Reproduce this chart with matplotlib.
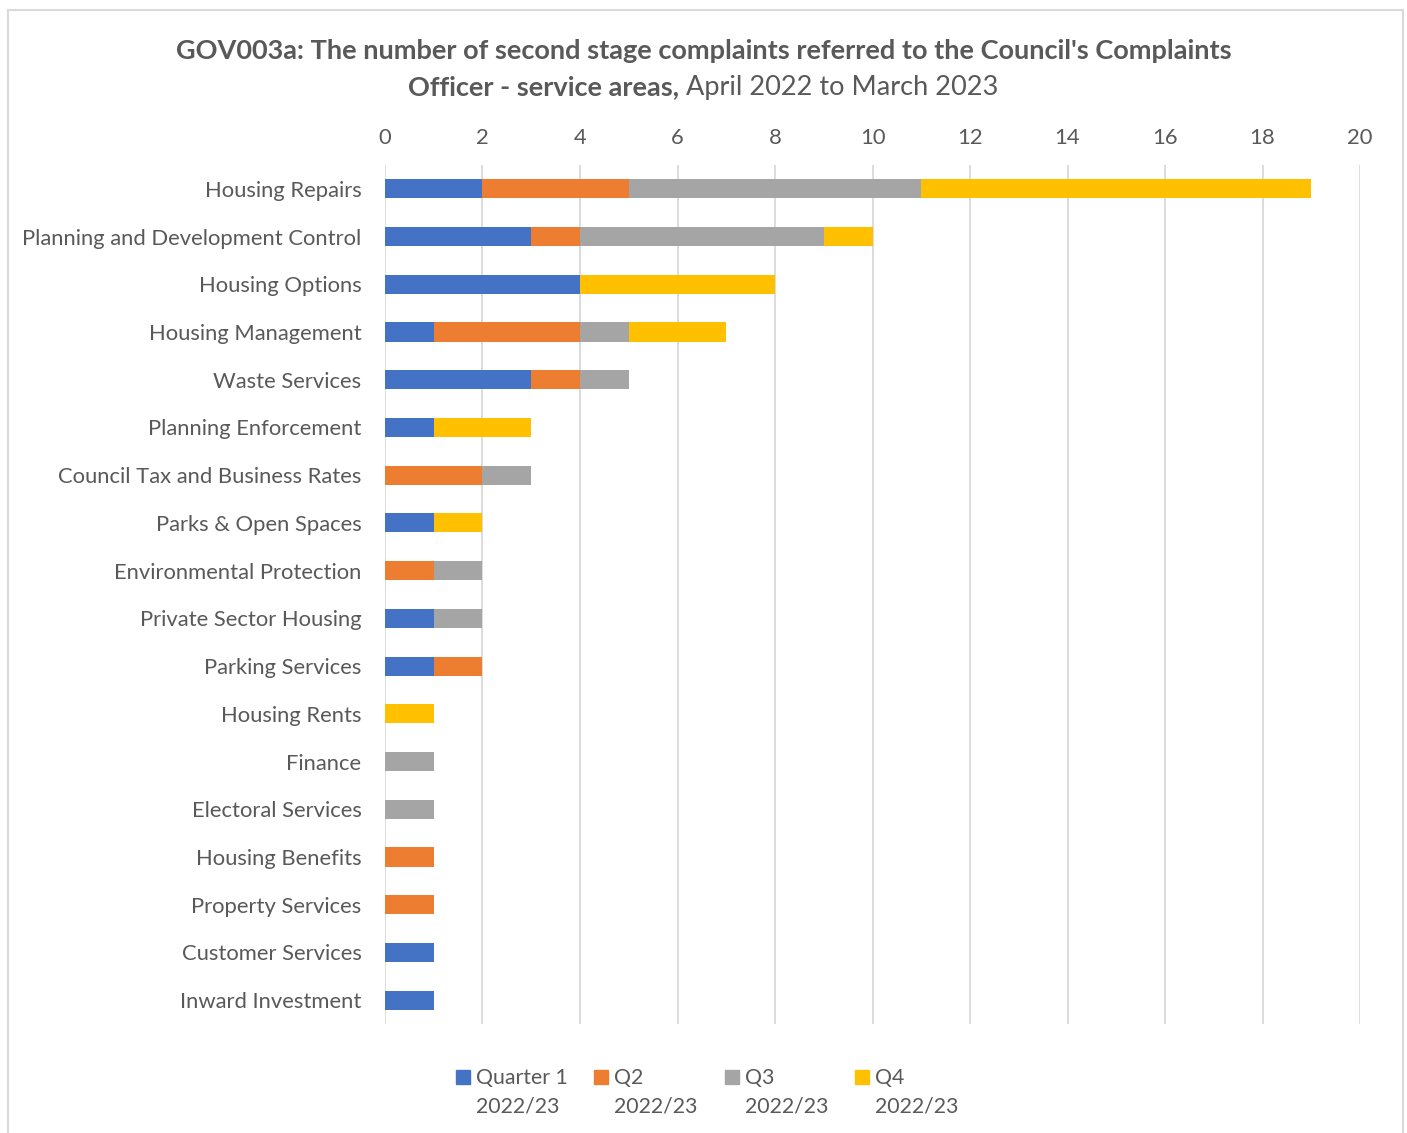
import numpy as np
import matplotlib.pyplot as plt
from matplotlib.patches import Rectangle

plt.rcParams['font.family'] = ['Lato', 'DejaVu Sans']

services = [
    "Housing Repairs", "Planning and Development Control", "Housing Options",
    "Housing Management", "Waste Services", "Planning Enforcement",
    "Council Tax and Business Rates", "Parks & Open Spaces",
    "Environmental Protection", "Private Sector Housing", "Parking Services",
    "Housing Rents", "Finance", "Electoral Services", "Housing Benefits",
    "Property Services", "Customer Services", "Inward Investment",
]
q1 = [2, 3, 4, 1, 3, 1, 0, 1, 0, 1, 1, 0, 0, 0, 0, 0, 1, 1]
q2 = [3, 1, 0, 3, 1, 0, 2, 0, 1, 0, 1, 0, 0, 0, 1, 1, 0, 0]
q3 = [6, 5, 0, 1, 1, 0, 1, 0, 1, 1, 0, 0, 1, 1, 0, 0, 0, 0]
q4 = [8, 1, 4, 2, 0, 2, 0, 1, 0, 0, 0, 1, 0, 0, 0, 0, 0, 0]
series_labels = ["Quarter 1\n2022/23", "Q2\n2022/23", "Q3\n2022/23", "Q4\n2022/23"]
colors = ["#4472C4", "#ED7D31", "#A5A5A5", "#FFC000"]

text_col = "#595959"
W, H = 1407, 1133

fig = plt.figure(figsize=(W / 100, H / 100), dpi=100)
ax = fig.add_axes([385 / W, 1 - 1024 / H, 975 / W, 859 / H])

y = np.arange(len(services))
left = np.zeros(len(services))
for vals, lab, col in zip([q1, q2, q3, q4], series_labels, colors):
    vals = np.array(vals)
    ax.barh(y, vals, left=left, height=0.4, color=col, label=lab, zorder=3)
    left += vals

ax.set_xlim(0, 20)
ax.set_ylim(len(services) - 0.5, -0.5)
ax.set_xticks(range(0, 21, 2))
ax.set_yticks(y)
ax.set_yticklabels(services)
ax.xaxis.tick_top()
ax.tick_params(axis='both', length=0, labelsize=15.8, colors=text_col)
ax.tick_params(axis='x', pad=12)
ax.tick_params(axis='y', pad=17)
ax.grid(axis='x', color="#D9D9D9", linewidth=1.3, zorder=0)
for s in ax.spines.values():
    s.set_visible(False)

# title: first line bold, second line mixed bold / regular
fig.text(0.5, 1 - 51 / H,
         "GOV003a: The number of second stage complaints referred to the Council's Complaints",
         ha='center', va='center', fontsize=19.5, fontweight='bold', color=text_col)
t1 = fig.text(0, 1 - 87 / H, "Officer - service areas,", ha='left', va='center',
              fontsize=19.5, fontweight='bold', color=text_col)
t2 = fig.text(0, 1 - 87 / H, " April 2022 to March 2023", ha='left', va='center',
              fontsize=19.5, color=text_col)
fig.canvas.draw()
r = fig.canvas.get_renderer()
w1 = t1.get_window_extent(r).width / W
w2 = t2.get_window_extent(r).width / W
x0 = 0.5 - (w1 + w2) / 2
t1.set_x(x0)
t2.set_x(x0 + w1)

# legend at bottom: square aligned with first line of a two-line label
sq, gap, spacing = 14, 6, 27
texts = []
for lab in series_labels:
    t = fig.text(0, 0, lab, ha='left', va='top', fontsize=15.3,
                 color=text_col, linespacing=1.55)
    texts.append(t)
fig.canvas.draw()
widths = [t.get_window_extent(r).width for t in texts]
total = sum(sq + gap + w for w in widths) + spacing * (len(widths) - 1)
xpix = 707 - total / 2
for t, w, col in zip(texts, widths, colors):
    fig.patches.append(Rectangle((xpix / W, 1 - 1084 / H), sq / W, sq / H,
                                 transform=fig.transFigure, color=col))
    t.set_x((xpix + sq + gap) / W)
    t.set_y(1 - 1068 / H)
    xpix += sq + gap + w + spacing

fig.patches.append(Rectangle((8 / W, -0.01), 1395 / W, 1 - 10 / H + 0.01,
                             transform=fig.transFigure, fill=False,
                             edgecolor="#D9D9D9", linewidth=1.5))

fig.savefig("out.png", dpi=100)
